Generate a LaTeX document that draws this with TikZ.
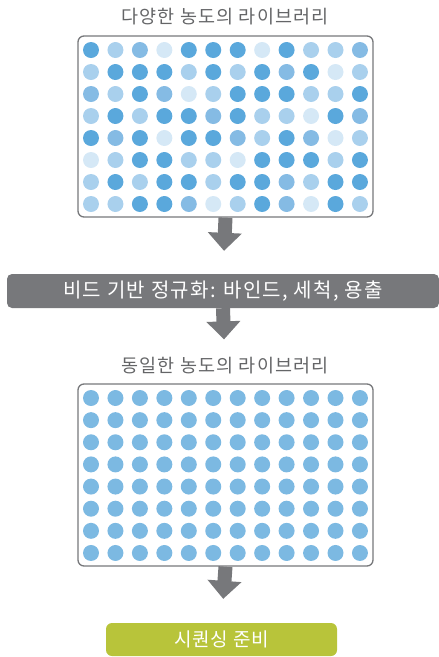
\documentclass[tikz,border=0pt]{standalone}
\usepackage{fontspec}
\newfontfamily\kr{Noto Sans CJK KR}[LetterSpace=6.5]
\newfontfamily\krg{Noto Sans CJK KR}[LetterSpace=4]
\usetikzlibrary{arrows.meta}
\definecolor{cD}{HTML}{5AA8DC}
\definecolor{cM}{HTML}{85BBE4}
\definecolor{cL}{HTML}{A9D0ED}
\definecolor{cV}{HTML}{D5E8F6}
\definecolor{cE}{HTML}{7CB9E2}
\definecolor{greyc}{HTML}{77787B}
\definecolor{titlec}{HTML}{646567}
\definecolor{greenc}{HTML}{B8C43A}
\tikzset{
  plate/.style={draw=greyc, line width=1.3pt, rounded corners=6pt, minimum width=295pt, inner sep=0pt},
  title/.style={text=titlec, font=\kr\fontsize{18.5}{20}\selectfont, inner sep=0pt},
  bar/.style={fill=greyc, rounded corners=5pt, minimum width=432pt, minimum height=34pt, text=white, font=\kr\fontsize{20}{22}\selectfont, inner sep=0pt},
  greenbox/.style={fill=greenc, rounded corners=6pt, minimum width=231pt, minimum height=33pt, text=white, font=\krg\fontsize{19}{21}\selectfont, inner sep=0pt},
  blockarrow/.style={draw=greyc, line width=14pt, -{Triangle[length=18pt 0 0, width=33pt 0 0]}}
}
\begin{document}
\begin{tikzpicture}[x=1pt,y=-1pt]
\useasboundingbox (0,0) rectangle (439,657);
% titles
\node[title] (t1) at (225,17) {다양한 농도의 라이브러리};
\node[title] (t2) at (225,366) {동일한 농도의 라이브러리};
% plates
\node[plate, minimum height=181pt] (p1) at (225.5,126.5) {};
\node[plate, minimum height=182pt] (p2) at (225.5,475) {};
% wells of plate 1
\foreach \row [count=\j from 0] in {
 {D,L,M,V,D,D,D,V,D,L,L,M},
 {L,D,D,D,L,D,L,D,M,D,V,L},
 {M,L,D,M,V,L,D,D,D,L,L,D},
 {L,D,L,D,D,M,D,L,L,V,D,M},
 {D,M,D,V,D,D,M,L,D,M,V,L},
 {V,L,D,D,L,L,V,D,D,D,L,D},
 {L,D,L,D,D,L,D,D,M,L,D,D},
 {L,L,D,D,M,V,L,D,M,V,D,L}} {
  \foreach \c [count=\i from 0] in \row {
    \fill[fill=c\c] (91+24.45*\i, 50+22*\j) circle[radius=8pt];
  }
}
% wells of plate 2
\foreach \j in {0,...,7} {
  \foreach \i in {0,...,11} {
    \fill[fill=cE] (91+24.45*\i, 398+22.14*\j) circle[radius=8pt];
  }
}
% bar and green box
\node[bar] (bar) at (223,291) {비드 기반 정규화: 바인드, 세척, 용출};
\node[greenbox] (seq) at (221.5,639.5) {시퀀싱 준비};
% arrows
\draw[blockarrow, shorten >=23pt] (p1.south) -- (bar.north);
\draw[blockarrow, shorten >=44pt] (bar.south) -- (p2.north);
\draw[blockarrow, shorten >=24pt] (p2.south) -- (seq.north);
\end{tikzpicture}
\end{document}
